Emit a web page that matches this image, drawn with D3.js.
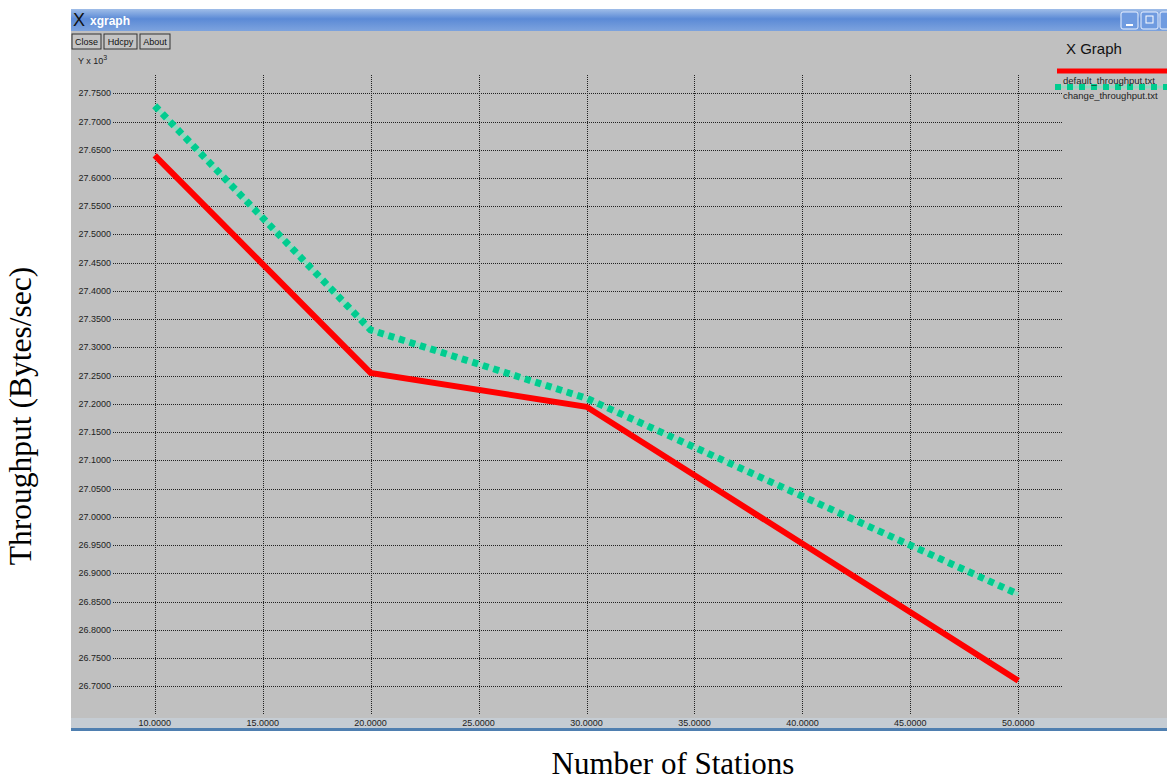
<!DOCTYPE html>
<html>
<head>
<meta charset="utf-8">
<script src="https://cdn.jsdelivr.net/npm/d3@7"></script>
<style>
  body { margin: 0; background: #fff; }
  svg { display: block; }
</style>
</head>
<body>
<div id="chart"></div>
<script>
// data
var stations = [10, 20, 30, 50];
var defaultThroughput = [27.640, 27.255, 27.195, 26.710];
var changeThroughput = [27.728, 27.331, 27.210, 26.863];
var xTicks = [10, 15, 20, 25, 30, 35, 40, 45, 50];
var yTicks = [26.70, 26.75, 26.80, 26.85, 26.90, 26.95, 27.00, 27.05, 27.10, 27.15,
              27.20, 27.25, 27.30, 27.35, 27.40, 27.45, 27.50, 27.55, 27.60, 27.65, 27.70, 27.75];
var seriesNames = ['default_throughput.txt', 'change_throughput.txt'];

var sWidth = 1167;
var sHeight = 782;

var svg = d3.select('#chart')
    .append('svg')
    .attr('width', sWidth)
    .attr('height', sHeight);

var defs = svg.append('defs');
var grad = defs.append('linearGradient')
    .attr('id', 'titlebar')
    .attr('x1', 0).attr('y1', 0).attr('x2', 0).attr('y2', 1);
grad.append('stop').attr('offset', '0%').attr('stop-color', '#9fbde8');
grad.append('stop').attr('offset', '45%').attr('stop-color', '#5b8ad6');
grad.append('stop').attr('offset', '100%').attr('stop-color', '#7da3de');

// window frame
var win = { left: 71, top: 9, right: 1167, bottom: 731 };
svg.append('rect')
    .attr('x', win.left).attr('y', win.top)
    .attr('width', win.right - win.left).attr('height', win.bottom - win.top)
    .attr('fill', '#c0c0c0');

svg.append('rect')
    .attr('x', win.left).attr('y', win.top)
    .attr('width', win.right - win.left).attr('height', 22)
    .attr('fill', 'url(#titlebar)');

svg.append('text')
    .attr('x', win.left + 2).attr('y', win.top + 17)
    .style('font-family', 'Liberation Sans, Arial, sans-serif')
    .style('font-size', '18px')
    .attr('fill', '#111')
    .text('X');
svg.append('text')
    .attr('x', win.left + 19).attr('y', win.top + 16)
    .style('font-family', 'Liberation Sans, Arial, sans-serif')
    .style('font-size', '12px')
    .style('font-weight', 'bold')
    .attr('fill', '#fff')
    .text('xgraph');

// title bar buttons (right)
[1121, 1141, 1160].forEach(function(bx) {
    svg.append('rect')
        .attr('x', bx).attr('y', win.top + 3)
        .attr('width', 17).attr('height', 17).attr('rx', 2)
        .attr('fill', '#6f9be0').attr('stroke', '#e8f0ff');
});
svg.append('rect').attr('x', 1126).attr('y', 24).attr('width', 7).attr('height', 2).attr('fill', '#fff');
svg.append('rect').attr('x', 1146).attr('y', 16).attr('width', 7).attr('height', 7).attr('fill', 'none').attr('stroke', '#fff');

// xgraph buttons
var buttons = [{ x: 72, w: 29, t: 'Close' }, { x: 104, w: 33, t: 'Hdcpy' }, { x: 140, w: 30, t: 'About' }];
buttons.forEach(function(b) {
    svg.append('rect')
        .attr('x', b.x).attr('y', 34)
        .attr('width', b.w).attr('height', 15)
        .attr('fill', '#c4c4c4').attr('stroke', '#333');
    svg.append('text')
        .attr('x', b.x + b.w / 2).attr('y', 45)
        .attr('text-anchor', 'middle')
        .style('font-family', 'Liberation Sans, Arial, sans-serif')
        .style('font-size', '9px')
        .attr('fill', '#111')
        .text(b.t);
});

var yUnit = svg.append('text')
    .attr('x', 78).attr('y', 64)
    .style('font-family', 'Liberation Sans, Arial, sans-serif')
    .style('font-size', '9px')
    .attr('fill', '#222');
yUnit.append('tspan').text('Y x 10');
yUnit.append('tspan').attr('dy', -4).style('font-size', '7px').text('3');

// bottom band of window
svg.append('rect')
    .attr('x', win.left).attr('y', 718)
    .attr('width', win.right - win.left).attr('height', 10)
    .attr('fill', '#c5ccd3');
svg.append('rect')
    .attr('x', win.left).attr('y', 728)
    .attr('width', win.right - win.left).attr('height', 3)
    .attr('fill', '#4f7fb0');

// scales
var xScale = d3.scaleLinear().domain([10, 50]).range([154.7, 1018.3]);
var yScale = d3.scaleLinear().domain([26.70, 27.75]).range([686.3, 93.3]);

var grid = svg.append('g');
// horizontal grid
grid.selectAll('line.h')
    .data(yTicks)
    .enter().append('line')
    .attr('x1', 113).attr('x2', 1062)
    .attr('y1', d => Math.round(yScale(d)) + 0.5)
    .attr('y2', d => Math.round(yScale(d)) + 0.5)
    .attr('stroke', '#222')
    .attr('stroke-width', 1)
    .attr('stroke-dasharray', '1,1');
// vertical grid
grid.selectAll('line.v')
    .data(xTicks)
    .enter().append('line')
    .attr('x1', d => Math.round(xScale(d)) + 0.5)
    .attr('x2', d => Math.round(xScale(d)) + 0.5)
    .attr('y1', 75).attr('y2', 714)
    .attr('stroke', '#222')
    .attr('stroke-width', 1)
    .attr('stroke-dasharray', '1,1');

// tick labels
svg.append('g').selectAll('text')
    .data(yTicks)
    .enter().append('text')
    .attr('x', 111)
    .attr('y', d => yScale(d) + 3)
    .attr('text-anchor', 'end')
    .style('font-family', 'Liberation Sans, Arial, sans-serif')
    .style('font-size', '9px')
    .attr('fill', '#222')
    .text(d => d.toFixed(4));

svg.append('g').selectAll('text')
    .data(xTicks)
    .enter().append('text')
    .attr('x', d => xScale(d))
    .attr('y', 726)
    .attr('text-anchor', 'middle')
    .style('font-family', 'Liberation Sans, Arial, sans-serif')
    .style('font-size', '9px')
    .attr('fill', '#222')
    .text(d => d.toFixed(4));

// lines
var line = d3.line()
    .x(d => xScale(d[0]))
    .y(d => yScale(d[1]));

var defPts = stations.map((s, i) => [s, defaultThroughput[i]]);
var chgPts = stations.map((s, i) => [s, changeThroughput[i]]);

svg.append('path')
    .datum(chgPts)
    .attr('d', line)
    .attr('fill', 'none')
    .attr('stroke', '#8fd9bf')
    .attr('stroke-width', 4);
svg.append('path')
    .datum(chgPts)
    .attr('d', line)
    .attr('fill', 'none')
    .attr('stroke', '#00cc8f')
    .attr('stroke-width', 7)
    .attr('stroke-dasharray', '6,5');

svg.append('path')
    .datum(defPts)
    .attr('d', line)
    .attr('fill', 'none')
    .attr('stroke', '#ff0000')
    .attr('stroke-width', 6)
    .attr('stroke-linejoin', 'miter');

// legend
svg.append('text')
    .attr('x', 1066).attr('y', 54)
    .style('font-family', 'Liberation Sans, Arial, sans-serif')
    .style('font-size', '15px')
    .attr('fill', '#111')
    .text('X Graph');

svg.append('line')
    .attr('x1', 1057).attr('x2', 1167)
    .attr('y1', 71).attr('y2', 71)
    .attr('stroke', '#ff0000').attr('stroke-width', 5);
svg.append('line')
    .attr('x1', 1055).attr('x2', 1167)
    .attr('y1', 87).attr('y2', 87)
    .attr('stroke', '#8fd9bf').attr('stroke-width', 3);
svg.append('line')
    .attr('x1', 1055).attr('x2', 1167)
    .attr('y1', 87).attr('y2', 87)
    .attr('stroke', '#00cc8f').attr('stroke-width', 6)
    .attr('stroke-dasharray', '6,6');

seriesNames.forEach(function(n, i) {
    svg.append('text')
        .attr('x', 1063).attr('y', 84 + i * 15)
        .style('font-family', 'Liberation Sans, Arial, sans-serif')
        .style('font-size', '9.5px')
        .attr('fill', '#222')
        .text(n);
});

// outer axis titles
svg.append('text')
    .attr('x', 673).attr('y', 774)
    .attr('text-anchor', 'middle')
    .style('font-family', 'Liberation Serif, Times New Roman, serif')
    .style('font-size', '31px')
    .attr('fill', '#000')
    .text('Number of Stations');

svg.append('text')
    .attr('transform', 'translate(31, 416) rotate(-90)')
    .attr('text-anchor', 'middle')
    .style('font-family', 'Liberation Serif, Times New Roman, serif')
    .style('font-size', '31.5px')
    .attr('fill', '#000')
    .text('Throughput (Bytes/sec)');
</script>
</body>
</html>
